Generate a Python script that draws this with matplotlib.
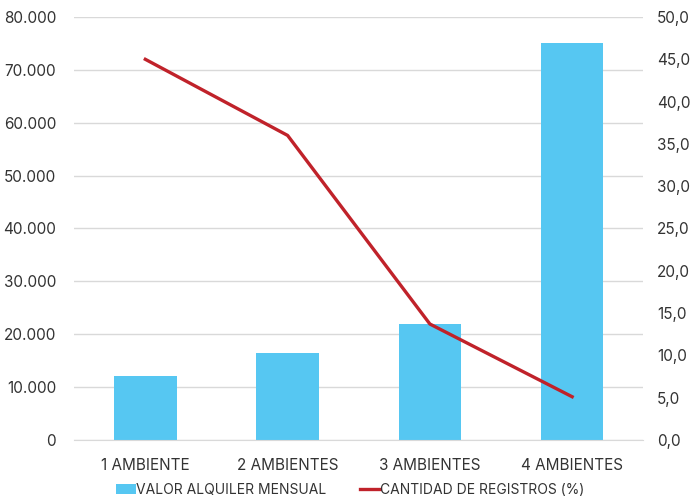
import matplotlib
matplotlib.use("Agg")
import matplotlib.pyplot as plt
from matplotlib.ticker import FuncFormatter

categories = ["1 AMBIENTE", "2 AMBIENTES", "3 AMBIENTES", "4 AMBIENTES"]
valor_alquiler = [12000, 16400, 22000, 75000]
cantidad_registros = [45.0, 36.0, 13.7, 5.1]

plt.rcParams['font.family'] = ['Inter', 'DejaVu Sans']

fig = plt.figure(figsize=(7.0, 5.01), dpi=100)
ax = fig.add_axes([0.106, 0.122, 0.813, 0.844])
ax2 = ax.twinx()

x = list(range(len(categories)))
ax.bar(x, valor_alquiler, width=0.44, color="#56C7F2", label="VALOR ALQUILER MENSUAL", zorder=2)
ax2.plot(x, cantidad_registros, color="#C0222A", linewidth=2.4, label="CANTIDAD DE REGISTROS (%)", zorder=3)

ax.set_xlim(-0.5, 3.5)
ax.set_ylim(0, 80000)
ax.set_yticks(range(0, 80001, 10000))
ax.yaxis.set_major_formatter(FuncFormatter(lambda v, p: f"{int(v):,}".replace(",", ".")))
ax2.set_ylim(0, 50)
ax2.set_yticks([i * 5 for i in range(11)])
ax2.yaxis.set_major_formatter(FuncFormatter(lambda v, p: f"{v:.1f}".replace(".", ",")))

ax.set_xticks(x)
ax.set_xticklabels(categories)
ax.grid(axis="y", color="#d9d9d9", linewidth=1, zorder=0)
ax.set_axisbelow(True)

for a in (ax, ax2):
    for s in a.spines.values():
        s.set_visible(False)
    a.tick_params(length=0, labelsize=11, colors="#333333")
ax.spines["bottom"].set_visible(True)
ax.spines["bottom"].set_color("#d9d9d9")
ax.tick_params(axis="y", pad=13)
ax2.tick_params(axis="y", pad=10)
ax.tick_params(axis="x", pad=13)

h1, l1 = ax.get_legend_handles_labels()
h2, l2 = ax2.get_legend_handles_labels()
fig.legend(h1 + h2, l1 + l2, loc="center", bbox_to_anchor=(0.5, 0.022), ncol=2,
           frameon=False, fontsize=10, handlelength=1.45, handletextpad=0.0,
           columnspacing=2.4, labelcolor="#333333")

fig.savefig("out.png", dpi=100)
